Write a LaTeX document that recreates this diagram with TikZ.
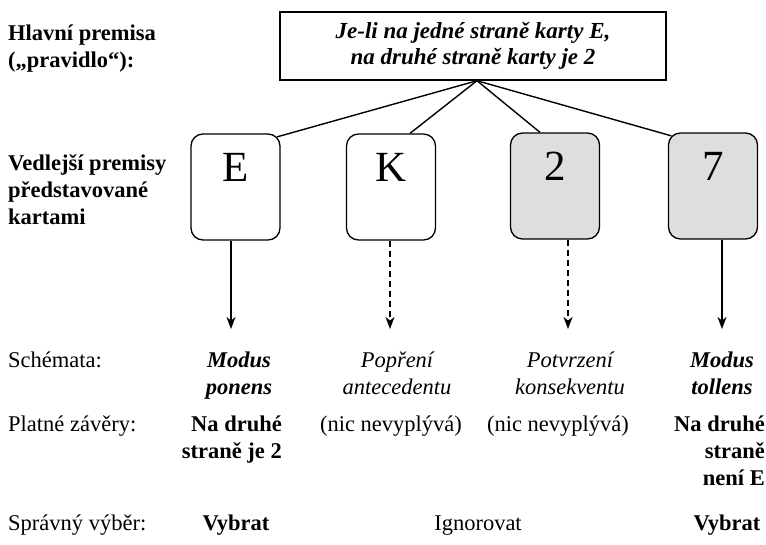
\documentclass[tikz,border=0pt]{standalone}
\usepackage{fontspec}
\setmainfont{Liberation Serif}
\usetikzlibrary{arrows.meta,calc}
\definecolor{cardgray}{RGB}{221,222,224}
\begin{document}
\begin{tikzpicture}[x=1pt,y=-1pt,
  txt/.style={font=\fontsize{22.5}{27}\selectfont, inner sep=0pt, anchor=base, align=center},
  btxt/.style={txt, font=\fontsize{22.5}{27}\selectfont\bfseries},
  itxt/.style={txt, font=\fontsize{22.5}{27}\selectfont\itshape},
  bitxt/.style={txt, font=\fontsize{22.5}{27}\selectfont\bfseries\itshape},
  lbl/.style={txt, anchor=base west, align=left},
  blbl/.style={btxt, anchor=base west, align=left},
  card/.style={draw, line width=1.3pt, rounded corners=12pt, minimum width=89pt, minimum height=106pt, inner sep=0pt},
  cardletter/.style={inner sep=0pt, anchor=base, font=\fontsize{43}{43}\selectfont},
  conn/.style={line width=1.4pt},
  arr/.style={line width=1.4pt, -{Stealth[length=12pt, width=9pt, inset=3.5pt]}},
  darr/.style={arr, dash pattern=on 6pt off 4pt}
]
\useasboundingbox (0,0) rectangle (766,544);

% main premise box
\node[draw, line width=1.4pt, minimum width=386pt, minimum height=68pt, inner sep=0pt,
      font=\fontsize{23}{25.5}\selectfont\bfseries\itshape, align=center]
  (box) at (473,46) {Je-li na jedné straně karty E,\\na druhé straně karty je 2};

% left labels (anchor = baseline of last line)
\node[blbl] (hl) at (8,67) {Hlavní premisa\\(„pravidlo“):};
\node[blbl] (vp) at (8,224) {Vedlejší premisy\\představované\\kartami};
\node[lbl] (sch) at (8,367) {Schémata:};
\node[lbl] (plz) at (8,431) {Platné závěry:};
\node[lbl] (spv) at (8,530) {Správný výběr:};

% cards
\node[card] (E) at (235.5,187) {};
\node[card] (K) at (391,187) {};
\node[card, fill=cardgray] (c2) at (555,186) {};
\node[card, fill=cardgray] (c7) at (713,186) {};
\node[cardletter] (lE) at (235.5,181) {E};
\node[cardletter] (lK) at (391,181) {K};
\node[cardletter] (l2) at (555,180) {2};
\node[cardletter] (l7) at (713,180) {7};

% connectors from premise to cards
\coordinate (hub) at ($(box.south)+(4,0)$);
\draw[conn] (hub) -- ($(E.north east)+(-3.5,3.5)$);
\draw[conn] (hub) -- ($(K.north)+(19,0)$);
\draw[conn] (hub) -- ($(c2.north)+(-15,0)$);
\draw[conn] (hub) -- ($(c7.north west)+(3.5,3.5)$);

% arrows
\coordinate (aE) at (231,329);
\coordinate (aK) at (390,329);
\coordinate (a2) at (568,329);
\coordinate (a7) at (722,329);
\draw[arr] (E.south -| aE) -- (aE);
\draw[darr] (K.south -| aK) -- (aK);
\draw[darr] (c2.south -| a2) -- (a2);
\draw[arr] (c7.south -| a7) -- (a7);

% schemata (anchor = baseline of last line)
\node[bitxt] (mp) at (239,394) {Modus\\ponens};
\node[itxt] (pa) at (397,394) {Popření\\antecedentu};
\node[itxt] (pk) at (570,394) {Potvrzení\\konsekventu};
\node[bitxt] (mt) at (722,394) {Modus\\tollens};

% conclusions
\node[btxt, anchor=base east, align=right] (z1) at (282,458) {Na druhé\\straně je 2};
\node[txt] (z2) at (391,431) {(nic nevyplývá)};
\node[txt] (z3) at (558,431) {(nic nevyplývá)};
\node[btxt, anchor=base east, align=right] (z4) at (765,485) {Na druhé\\straně\\není E};

% selection
\node[btxt] (v1) at (236,530) {Vybrat};
\node[txt] (ig) at (478,530) {Ignorovat};
\node[btxt] (v2) at (727,530) {Vybrat};
\end{tikzpicture}
\end{document}
